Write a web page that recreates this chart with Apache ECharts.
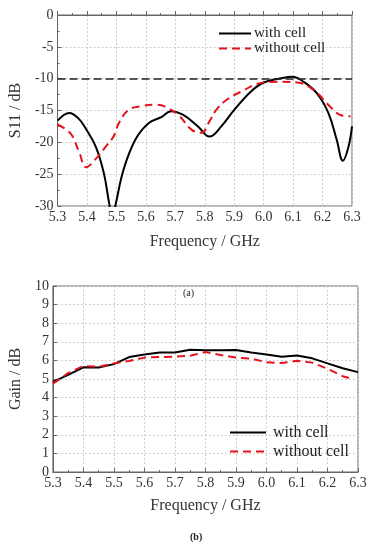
<!DOCTYPE html>
<html><head><meta charset="utf-8">
<script src="https://cdn.jsdelivr.net/npm/echarts@6/dist/echarts.min.js"></script>
<style>html,body{margin:0;padding:0;background:#fff}#c{width:379px;height:550px}</style>
</head><body><div id="c"></div>
<script>
// (a) S11
const s11WithFreq = [5.30,5.34,5.37,5.395,5.43,5.457,5.475,5.486,5.497,5.524,5.564,5.609,5.654,5.685,5.727,5.777,5.816,5.856,5.90,5.957,6.00,6.058,6.097,6.136,6.181,6.22,6.248,6.269,6.288,6.30];
const s11With     = [-16.6,-15.4,-16.2,-17.8,-20.7,-24.8,-29.5,-31.8,-29.8,-24.3,-19.6,-17.0,-16.0,-15.1,-15.7,-17.5,-19.1,-17.5,-14.9,-12.0,-10.6,-9.95,-9.7,-10.5,-12.3,-15.4,-19.6,-22.9,-20.7,-17.5];
const s11WithoutFreq = [5.30,5.344,5.373,5.397,5.43,5.463,5.49,5.508,5.541,5.586,5.631,5.665,5.71,5.755,5.788,5.816,5.839,5.878,5.934,5.979,6.046,6.114,6.17,6.226,6.26,6.295];
const s11Without     = [-17.2,-18.6,-21.5,-23.9,-22.6,-20.7,-19.1,-17.0,-14.9,-14.3,-14.1,-14.4,-15.7,-18.0,-18.5,-16.7,-14.9,-13.2,-11.8,-10.8,-10.5,-10.6,-11.8,-14.4,-15.7,-15.9];
const s11Ref = -10;
// (b) Gain
const gainFreq = [5.30,5.35,5.40,5.45,5.50,5.55,5.60,5.65,5.70,5.75,5.80,5.85,5.90,5.95,6.00,6.05,6.10,6.15,6.20,6.25,6.30];
const gainWith = [4.85,5.22,5.63,5.62,5.80,6.18,6.32,6.42,6.43,6.57,6.55,6.55,6.56,6.42,6.32,6.20,6.26,6.11,5.84,5.58,5.37];
const gainWithoutFreq = [5.30,5.35,5.40,5.45,5.50,5.55,5.60,5.65,5.70,5.75,5.80,5.85,5.90,5.95,6.00,6.05,6.10,6.15,6.20,6.25,6.27];
const gainWithout = [4.75,5.32,5.70,5.66,5.84,5.97,6.15,6.18,6.20,6.25,6.45,6.29,6.15,6.10,5.90,5.86,5.98,5.88,5.55,5.15,5.05];
const seriesNames = ['with cell','without cell'];
const xTicks = {min:5.3, max:6.3, interval:0.1};

const zip = (a,b) => a.map((x,i)=>[x,b[i]]);
const FONT = 'Liberation Serif';
const RED = '#e3141b';
const axisCommon = {
  axisLine:{show:true,lineStyle:{color:'#666',width:1}},
  axisTick:{show:true,inside:true,length:4,lineStyle:{color:'#666'}},
  minorTick:{show:true,splitNumber:2,length:2,lineStyle:{color:'#666'}},
  splitLine:{show:true,lineStyle:{color:'#cfcfcf',type:[2,2],width:1}},
  axisLabel:{color:'#333',fontFamily:FONT,fontSize:14,margin:4},
  nameTextStyle:{color:'#333',fontFamily:FONT,fontSize:16}
};
const chart = echarts.init(document.getElementById('c'),null,{renderer:'canvas'});
chart.setOption({
  backgroundColor:'#fff',
  animation:false,
  grid:[
    {left:55,right:27,top:15,bottom:344,show:true,borderColor:'#666',borderWidth:1},
    {left:51,right:21,top:286,bottom:78,show:true,borderColor:'#666',borderWidth:1}
  ],
  title:[
    {text:'(a)',left:183,top:288,textStyle:{fontFamily:FONT,fontSize:10,fontWeight:'normal',color:'#222'},padding:0},
    {text:'(b)',left:190,top:532,textStyle:{fontFamily:FONT,fontSize:10,fontWeight:'bold',color:'#222'},padding:0}
  ],
  legend:[
    {data:seriesNames.map(n=>({name:n})),orient:'vertical',left:213,top:21,itemWidth:32,itemHeight:15,itemGap:0,
     itemStyle:{opacity:0},
     textStyle:{fontFamily:FONT,fontSize:15,color:'#222',lineHeight:15,padding:[0,0,0,-2]}},
    {data:seriesNames.map(n=>({name:n+' '})),orient:'vertical',left:224,top:418,itemWidth:36,itemHeight:19,itemGap:0,
     itemStyle:{opacity:0},
     textStyle:{fontFamily:FONT,fontSize:16,color:'#222',lineHeight:19,padding:[0,0,0,2]}}
  ],
  xAxis:[
    Object.assign({},axisCommon,{type:'value',gridIndex:0,min:xTicks.min,max:xTicks.max,interval:xTicks.interval,
      name:'Frequency / GHz',nameLocation:'middle',nameGap:28,axisLabel:Object.assign({},axisCommon.axisLabel,{formatter:v=>v.toFixed(1)})}),
    Object.assign({},axisCommon,{type:'value',gridIndex:1,min:xTicks.min,max:xTicks.max,interval:xTicks.interval,
      name:'Frequency / GHz',nameLocation:'middle',nameGap:26,axisLabel:Object.assign({},axisCommon.axisLabel,{formatter:v=>v.toFixed(1)})})
  ],
  yAxis:[
    Object.assign({},axisCommon,{type:'value',gridIndex:0,min:-30,max:0,interval:5,
      name:'S11 / dB',nameLocation:'middle',nameGap:32}),
    Object.assign({},axisCommon,{type:'value',gridIndex:1,min:0,max:10,interval:1,minorTick:{show:false},
      name:'Gain / dB',nameLocation:'middle',nameGap:25})
  ],
  series:[
    {name:seriesNames[0],type:'line',xAxisIndex:0,yAxisIndex:0,data:zip(s11WithFreq,s11With),smooth:0.4,showSymbol:false,symbol:'none',clip:true,
     lineStyle:{color:'#000',width:2},itemStyle:{color:'#000'},
     markLine:{silent:true,symbol:'none',label:{show:false},lineStyle:{color:'#222',type:[8,4],width:1.5},data:[{yAxis:s11Ref}]}},
    {name:seriesNames[1],type:'line',xAxisIndex:0,yAxisIndex:0,data:zip(s11WithoutFreq,s11Without),smooth:0.4,showSymbol:false,symbol:'none',clip:true,
     lineStyle:{color:RED,width:2,type:[8,5]},itemStyle:{color:RED}},
    {name:seriesNames[0]+' ',type:'line',xAxisIndex:1,yAxisIndex:1,data:zip(gainFreq,gainWith),showSymbol:false,symbol:'none',
     lineStyle:{color:'#000',width:2},itemStyle:{color:'#000'}},
    {name:seriesNames[1]+' ',type:'line',xAxisIndex:1,yAxisIndex:1,data:zip(gainWithoutFreq,gainWithout),showSymbol:false,symbol:'none',
     lineStyle:{color:RED,width:2,type:[8,5]},itemStyle:{color:RED}}
  ]
});
</script></body></html>
